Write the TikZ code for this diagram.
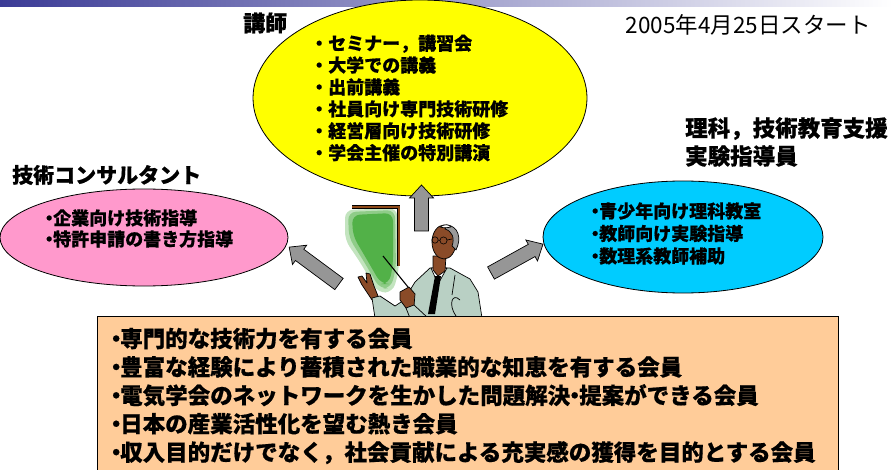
\documentclass[tikz,border=0pt]{standalone}
\usepackage{fontspec}
\newfontfamily\jp{Noto Sans CJK JP}[BoldFeatures={FakeBold=0.6}]
\usetikzlibrary{shapes.geometric}

\definecolor{bandblue}{HTML}{3B3B96}
\definecolor{lecyellow}{HTML}{FFFF00}
\definecolor{conspink}{HTML}{FF99CC}
\definecolor{educyan}{HTML}{00CCFF}
\definecolor{membox}{HTML}{FFCC99}
\definecolor{arrowgray}{HTML}{969696}
\definecolor{boardgreen}{HTML}{52B148}
\definecolor{framebrown}{HTML}{8E4A1A}
\definecolor{skin}{HTML}{8A4B28}
\definecolor{suit}{HTML}{B9D0C4}
\definecolor{hair}{HTML}{9A9A9A}

% narrow bullet used in the compact lists
\newcommand\nbul{\makebox[8pt][c]{・}}

% block arrow: tail point, direction (deg), length
\newcommand\blockarrow[3]{%
  \begin{scope}[shift={#1}, rotate=#2]
    \filldraw[blockfill] (0,-7) -- (#3-13,-7) -- (#3-13,-12) -- (#3,0)
      -- (#3-13,12) -- (#3-13,7) -- (0,7) -- cycle;
  \end{scope}}

\tikzset{
  bubble/.style={ellipse, draw=black, line width=0.8pt, inner sep=0pt},
  blockfill/.style={fill=arrowgray, draw=black, line width=0.7pt, line join=miter},
  title/.style={inner sep=0pt, font=\jp\bfseries\fontsize{#1}{#1}\selectfont},
  listtext/.style={inner sep=0pt, anchor=west, align=left,
    font=\jp\bfseries\fontsize{18}{#1}\selectfont},
  outline/.style={draw=black, line width=0.7pt, line join=round},
}

\begin{document}
\begin{tikzpicture}[x=1pt, y=-1pt]
\useasboundingbox (0,0) rectangle (893,470);
\clip (0,0) rectangle (893,470);

% header band
\shade[left color=bandblue, right color=white] (0,0) rectangle (893,6.5);

% the three activity bubbles
\node[bubble, fill=lecyellow, minimum width=334pt, minimum height=196pt] (lecturer) at (420,98) {};
\node[bubble, fill=conspink, minimum width=288pt, minimum height=97pt] (consultant) at (144,237.5) {};
\node[bubble, fill=educyan, minimum width=280pt, minimum height=112pt] (educator) at (683,237) {};

% bubble headings
\node[title=22, anchor=west] (lecturertitle) at (243,23) {講師};
\node[title=21, anchor=west] (consultanttitle) at (12,175) {技術コンサルタント};
\node[title=22.5, anchor=west, align=left, font=\jp\bfseries\fontsize{22.5}{28}\selectfont] (educatortitle) at (685,142)
  {理科，技術教育支援\\実験指導員};
\node[inner sep=0pt, anchor=east, font=\jp\fontsize{22.5}{22.5}\selectfont] (startdate) at (871,25) {2005年4月25日スタート};

% bubble contents
\node[listtext=21.9] (lecturerlist) at (310,98)
  {・セミナー，講習会\\・大学での講義\\・出前講義\\・社員向け専門技術研修\\・経営層向け技術研修\\・学会主催の特別講演};
\node[listtext=21] (consultantlist) at (45,228.5)
  {\nbul 企業向け技術指導\\\nbul 特許申請の書き方指導};
\node[listtext=22.5] (educatorlist) at (591,233.5)
  {\nbul 青少年向け理科教室\\\nbul 教師向け実験指導\\\nbul 数理系教師補助};

% lecturer figure: blackboard
\begin{scope}
  \fill[boardgreen!35, rounded corners=8pt] (345,210) -- (397,208) -- (399,270) -- (393,292) -- (378,293) -- (360,262) -- (345,240) -- cycle;
  \fill[boardgreen!65, rounded corners=8pt] (348,212) -- (395,210) -- (396,268) -- (391,288) -- (380,289) -- (363,260) -- (349,238) -- cycle;
  \fill[boardgreen, rounded corners=8pt] (352,215) -- (393,213) -- (393,265) -- (389,284) -- (381,284) -- (366,258) -- (353,236) -- cycle;
  \draw[black, line width=3.2pt] (352,207) -- (398.5,207) -- (398.5,266);
  \draw[framebrown, line width=2pt] (352,207) -- (398.5,207) -- (398.5,265.5);
\end{scope}

% lecturer figure: person
\begin{scope}
  % raised hand on the left
  \filldraw[fill=skin, outline] (372,300) -- (362,285) -- (358,277) -- (362,276) -- (367,283) -- (366,273) -- (370,274) -- (374,286) -- (378,296) -- cycle;
  % suit
  \filldraw[fill=suit, outline] (372,298) -- (380,296) -- (395,306) -- (404,300) -- (415,282) -- (430,268) -- (450,268) -- (470,279) -- (478,292) -- (482,318) -- (375,318) -- cycle;
  \draw[outline] (460,300) .. controls (452,292) and (448,305) .. (456,316);
  \draw[outline] (455,275) -- (452,295);
  % shirt and tie
  \filldraw[fill=white, outline] (431,268) -- (438,284) -- (447,268) -- cycle;
  \fill[black] (435,276) -- (441,276) -- (435,314) -- (428,314) -- cycle;
  % neck and head
  \filldraw[fill=skin, outline] (433,256) -- (446,256) -- (445,271) -- (438,276) -- (433,270) -- cycle;
  \filldraw[fill=skin, outline] (444,242) ellipse [x radius=12pt, y radius=17pt];
  \filldraw[fill=hair, outline] (447,225) .. controls (458,226) and (462,238) .. (456,250) -- (452,246) .. controls (455,238) and (452,231) .. (445,229) -- cycle;
  \filldraw[fill=white, outline] (440,227) .. controls (444,224) and (449,224) .. (451,227) .. controls (447,228) and (443,228) .. (440,227) -- cycle;
  % glasses
  \draw[black, line width=0.6pt] (435,240) circle (3.2pt) (443.5,240.5) circle (3.6pt) (438.2,240) -- (440,240.5) (447,240) -- (452,239);
  % pointer and hand holding it
  \draw[black, line width=1.1pt] (383,256) -- (412,292);
  \filldraw[fill=skin, outline] (400,292) -- (409,287) -- (415,294) -- (414,306) -- (406,308) -- (400,300) -- cycle;
  \filldraw[fill=suit, outline] (406,308) -- (414,305) -- (428,318) -- (410,318) -- cycle;
\end{scope}

% arrows from the figure to each bubble
\blockarrow{(421.5,231)}{90}{46}
\blockarrow{(339,284)}{143.5}{62}
\blockarrow{(491,273)}{29}{59.5}

% member profile box
\node[draw=black, line width=0.9pt, fill=membox, inner sep=0pt, minimum width=741pt, minimum height=170pt, anchor=north west] (members) at (97,316) {};
\node[inner sep=0pt, anchor=west, align=left, font=\jp\bfseries\fontsize{22.5}{28.4}\selectfont] (memberlist) at (112,396)
  {\nbul 専門的な技術力を有する会員\\
   \nbul 豊富な経験により蓄積された職業的な知恵を有する会員\\
   \nbul 電気学会のネットワークを生かした問題解決\makebox[9pt][c]{・}提案ができる会員\\
   \nbul 日本の産業活性化を望む熱き会員\\
   \nbul 収入目的だけでなく，社会貢献による充実感の獲得を目的とする会員};
\end{tikzpicture}
\end{document}
